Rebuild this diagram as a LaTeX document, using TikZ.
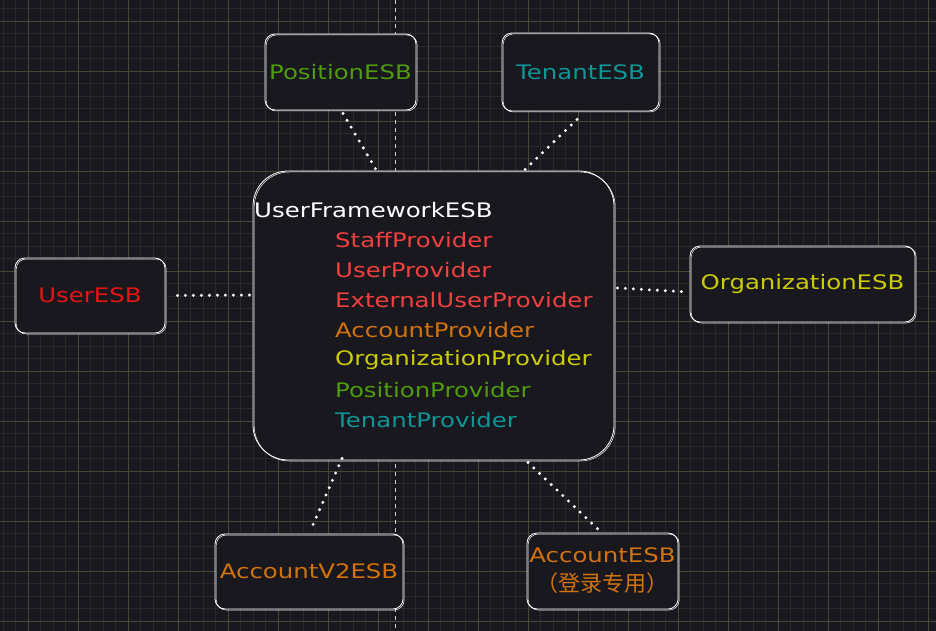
\documentclass[tikz,border=0pt]{standalone}
\usepackage{fontspec}
\setmainfont{DejaVu Sans}[FakeStretch=1.22]
\newfontfamily\cjk{Noto Sans CJK SC}

\definecolor{bg}{HTML}{19181F}
\definecolor{gridminor}{HTML}{29282C}
\definecolor{gridmajor}{HTML}{4A4535}
\definecolor{esbred}{HTML}{E61414}
\definecolor{provred}{HTML}{F23F3F}
\definecolor{esborange}{HTML}{D2720C}
\definecolor{esbyellow}{HTML}{CCCC05}
\definecolor{esbgreen}{HTML}{4E9C0C}
\definecolor{esbteal}{HTML}{0E9696}

\tikzset{
  sketch/.style={draw=white, line width=0.8pt, fill=bg,
    rounded corners=10pt, inner sep=0pt, align=center,
    postaction={draw, line width=0.5pt, transform canvas={shift={(1.2pt,-1pt)}}}},
  link/.style={draw=white, line width=3.3pt, line cap=round, dash pattern=on 0pt off 8pt},
  txt/.style={font=\fontsize{20}{29}\selectfont}
}

\begin{document}
\begin{tikzpicture}[x=1pt,y=-1pt,txt]

%sfondo
\fill[bg] (0,0) rectangle (936,631);
\useasboundingbox (0,0) rectangle (936,631);
\foreach \gx in {3.3,15.8,...,936} \draw[gridminor,line width=0.8pt] (\gx,0) -- (\gx,631);
\foreach \gy in {8.8,21.3,...,631} \draw[gridminor,line width=0.8pt] (0,\gy) -- (936,\gy);
\foreach \gx in {28.3,78.3,...,936} \draw[gridmajor,line width=0.9pt] (\gx,0) -- (\gx,631);
\foreach \gy in {21.3,71.3,...,631} \draw[gridmajor,line width=0.9pt] (0,\gy) -- (936,\gy);
\draw[white!80!black,line width=0.8pt,dash pattern=on 4pt off 4pt] (395.5,0) -- (395.5,631);

%nodi
\node[sketch, rounded corners=35pt, minimum width=361pt, minimum height=289pt] (main) at (433.5,315.5) {};
\node[sketch, minimum width=151pt, minimum height=76pt, text=esbgreen] (position) at (340.5,72) {PositionESB};
\node[sketch, minimum width=157pt, minimum height=78pt, text=esbteal] (tenant) at (580.5,72) {TenantESB};
\node[sketch, minimum width=150pt, minimum height=75pt, text=esbred] (user) at (90,295.5) {UserESB};
\node[sketch, minimum width=225pt, minimum height=76pt, text=esbyellow] (org) at (802.5,284) {OrganizationESB};
\node[sketch, minimum width=188pt, minimum height=75pt, text=esborange] (accv2) at (309,571.5) {AccountV2ESB};
\node[sketch, minimum width=151pt, minimum height=76pt, text=esborange] (acc) at (602.5,571) {AccountESB\\{\cjk\fontsize{22}{29}\selectfont （登录专用）}};

%testo
\node[anchor=west, inner sep=0pt, text=white] (title) at (254,210) {UserFrameworkESB};
\foreach \name/\col [count=\i from 0] in {StaffProvider/provred, UserProvider/provred,
    ExternalUserProvider/provred, AccountProvider/esborange,
    OrganizationProvider/esbyellow, PositionProvider/esbgreen, TenantProvider/esbteal}
  \node[anchor=west, inner sep=0pt, text=\col] (prov\i) at (335,240+30*\i) {\name};

%collegamenti
\draw[link] ([shift={(2.5,3)}]position.south) -- ([shift={(-57.5,-1)}]main.north);
\draw[link] ([shift={(-3.5,8)}]tenant.south) -- ([shift={(91.5,-1)}]main.north);
\draw[link] ([shift={(12,0)}]user.east) -- ([shift={(-3,-20.5)}]main.west);
\draw[link] ([shift={(3,-27.5)}]main.east) -- ([shift={(-1,8)}]org.west);
\draw[link] ([shift={(-91.5,-2)}]main.south) -- ([shift={(1,-2)}]accv2.north);
\draw[link] ([shift={(94.5,2)}]main.south) -- ([shift={(-1,0)}]acc.north);

\end{tikzpicture}
\end{document}
